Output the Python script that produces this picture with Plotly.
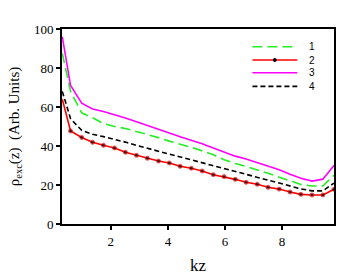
import plotly.graph_objects as go

kz = [0.3, 0.59, 0.98, 1.36, 1.74, 2.13, 2.51, 2.9, 3.28, 3.67, 4.05, 4.43, 4.82,
      5.2, 5.59, 5.97, 6.36, 6.74, 7.13, 7.51, 7.9, 8.28, 8.66, 9.05, 9.43, 9.82]

s1 = [87.5, 68, 57, 54.5, 51.5, 50, 49, 47.5, 46, 44.3, 42.5, 41, 39.3,
      37.5, 35.5, 33, 31, 29.5, 27.8, 26, 24, 22.3, 20.3, 19.5, 19.5, 25]
s2 = [64, 47.7, 44.4, 41.9, 40.4, 39.0, 36.8, 35.2, 33.7, 32.3, 31.3, 29.6, 28.6,
      27.2, 25.3, 24.3, 22.9, 21.4, 20.4, 18.8, 17.9, 16.4, 15.2, 14.9, 14.9, 17.8]
s3 = [96, 71, 62, 59, 57.7, 56.2, 54.4, 52.4, 50.4, 48.5, 46.7, 44.8, 43,
      41.2, 39, 37, 34.8, 33.3, 31.5, 29.7, 27.8, 25.5, 23.5, 22, 23, 30]
s4 = [68, 54, 48, 46, 44.8, 43.5, 42, 40.3, 38.8, 37.3, 36, 34.5, 33,
      31.5, 30, 28.5, 26.8, 25.5, 24, 22.5, 21, 19.5, 18, 17, 17, 21]

names = ["1", "2", "3", "4"]
x_ticks = [2, 4, 6, 8]
y_ticks = [0, 20, 40, 60, 80, 100]

SERIF = "Liberation Serif, Times New Roman, DejaVu Serif, serif"
SANS = "Liberation Sans, Arial, DejaVu Sans, sans-serif"

styles = [
    dict(color="#22ee22", width=1.6, dash="10px,5px"),
    dict(color="#ff0000", width=1.6),
    dict(color="#ff00ff", width=1.6),
    dict(color="black", width=1.6, dash="5px,3px"),
]
series = [s1, s2, s3, s4]

fig = go.Figure()
for i, (nm, s, st) in enumerate(zip(names, series, styles)):
    if i == 1:
        fig.add_trace(go.Scatter(x=kz, y=s, name=nm, mode="lines+markers", line=st,
                                 marker=dict(color="black", size=[0] + [4] * (len(kz) - 1))))
    else:
        fig.add_trace(go.Scatter(x=kz, y=s, name=nm, mode="lines", line=st))

# custom legend (paper coordinates)
leg_x0, leg_x1, leg_tx = 0.70, 0.865, 0.90
leg_y = [0.909, 0.841, 0.776, 0.706]
for nm, st, ly in zip(names, styles, leg_y):
    fig.add_shape(type="line", xref="paper", yref="paper", x0=leg_x0, x1=leg_x1, y0=ly, y1=ly,
                  line=dict(color=st["color"], width=st["width"], dash=st.get("dash", "solid")))
    fig.add_annotation(xref="paper", yref="paper", x=leg_tx, y=ly, text=nm, showarrow=False,
                       xanchor="left", yanchor="middle",
                       font=dict(family=SANS, size=10, color="black"))
xm = (leg_x0 + leg_x1) / 2
fig.add_shape(type="circle", xref="paper", yref="paper", fillcolor="black", line=dict(width=0),
              x0=xm - 0.007, x1=xm + 0.007, y0=leg_y[1] - 0.01, y1=leg_y[1] + 0.01)

axis_common = dict(showline=True, linecolor="black", linewidth=1.8, mirror=True,
                   ticks="outside", ticklen=4, tickwidth=1.5, tickcolor="black",
                   showgrid=False, zeroline=False, automargin=False,
                   tickfont=dict(family=SERIF, size=13, color="black"))

fig.update_layout(
    width=349, height=278,
    margin=dict(l=62, r=15, t=29, b=54, autoexpand=False),
    paper_bgcolor="white", plot_bgcolor="white",
    showlegend=False,
    xaxis=dict(range=[0.29, 9.82], tickvals=x_ticks,
               title=dict(text="kz", font=dict(family=SERIF, size=17, color="black"),
                          standoff=12),
               **axis_common),
    yaxis=dict(range=[0, 100], tickvals=y_ticks,
               title=dict(text="ρ<sub>exc</sub>(z)  (Arb. Units)",
                          font=dict(family=SERIF, size=15, color="black"),
                          standoff=11),
               **axis_common),
)

fig.write_html("out.html", config={"displayModeBar": False},
               post_script="document.body.style.margin='0px';document.body.style.overflow='hidden';")
